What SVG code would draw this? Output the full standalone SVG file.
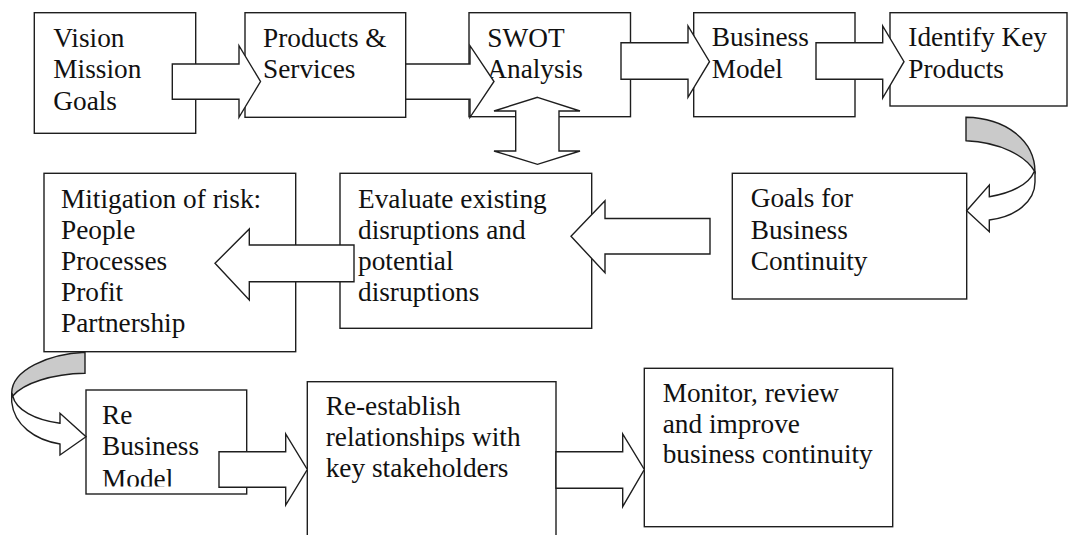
<svg xmlns="http://www.w3.org/2000/svg" width="1068" height="535" viewBox="0 0 1068 535">
<style>
.box{fill:#fff;stroke:#1e1e1e;stroke-width:1.4}
.arr{fill:#fff;stroke:#1e1e1e;stroke-width:1.4;stroke-linejoin:miter}
.back{fill:#cacaca;stroke:#1e1e1e;stroke-width:1.4}
text{font-family:"Liberation Serif","Times New Roman",serif;font-size:27.3px;fill:#111}
</style>
<defs>
<clipPath id="reclip"><rect x="86" y="390" width="161" height="96.5"/></clipPath>
</defs>
<rect width="1068" height="535" fill="#fff"/>

<g id="n-vision"><rect class="box" x="34.3" y="12.7" width="161.4" height="120.6"/>
<text x="53.3" y="46.5">Vision</text><text x="53.3" y="78">Mission</text><text x="53.3" y="109.5">Goals</text></g>

<g id="n-products"><rect class="box" x="245" y="12.7" width="160.7" height="104.6"/>
<text x="263" y="46.5">Products &amp;</text><text x="263" y="78">Services</text></g>

<g id="n-swot"><rect class="box" x="469" y="12.7" width="161.5" height="104"/>
<text x="487.3" y="46.5">SWOT</text><text x="487.3" y="78">Analysis</text></g>

<g id="n-business"><rect class="box" x="693.7" y="12.7" width="161.3" height="104"/>
<text x="711.7" y="46">Business</text><text x="711.7" y="77.5">Model</text></g>

<g id="n-identify"><rect class="box" x="890" y="12.7" width="177" height="93.3"/>
<text x="908.3" y="46">Identify Key</text><text x="908.3" y="77.5">Products</text></g>

<g id="n-goals"><rect class="box" x="732.3" y="173.3" width="234.4" height="125.7"/>
<text x="750.7" y="207">Goals for</text><text x="750.7" y="238.5">Business</text><text x="750.7" y="270">Continuity</text></g>

<g id="n-evaluate"><rect class="box" x="340" y="173.3" width="251.7" height="155"/>
<text x="358" y="207.5">Evaluate existing</text><text x="358" y="238.5">disruptions and</text><text x="358" y="269.5">potential</text><text x="358" y="300.5">disruptions</text></g>

<g id="n-mitigation"><rect class="box" x="44" y="173.3" width="251.7" height="178.4"/>
<text x="61" y="207.5">Mitigation of risk:</text><text x="61" y="238.5">People</text><text x="61" y="269.5">Processes</text><text x="61" y="300.5">Profit</text><text x="61" y="331.5">Partnership</text></g>

<g id="n-rebusiness"><rect class="box" x="86" y="390" width="160.7" height="104"/>
<text x="102" y="424">Re</text><text x="102" y="455">Business</text><text x="102" y="488" clip-path="url(#reclip)">Model</text></g>

<g id="n-reestablish"><rect class="box" x="307.3" y="381.7" width="248.7" height="160"/>
<text x="325.7" y="415">Re-establish</text><text x="325.7" y="446">relationships with</text><text x="325.7" y="477.3">key stakeholders</text></g>

<g id="n-monitor"><rect class="box" x="644.3" y="368.3" width="248.4" height="158.4"/>
<text x="662.7" y="401.7">Monitor, review</text><text x="662.7" y="432.7">and improve</text><text x="662.7" y="463.3">business continuity</text></g>

<g id="connectors">
<path class="arr" d="M172.3,64 H239 V45.7 L260.5,81.5 L239,117.3 V99.3 H172.3 Z"/>
<path class="arr" d="M405.7,64 H470 V45.7 L494,81.5 L470,117.3 V99.3 H405.7 Z"/>
<path class="arr" d="M621,42.7 H688 V26 L709.5,61.7 L688,97.3 V79.3 H621 Z"/>
<path class="arr" d="M816,42.7 H882.7 V26 L904,61.7 L882.7,98 V79.3 H816 Z"/>
<path class="arr" d="M537.5,97.3 L580,111 H559 V151 H580 L537.5,164.3 L494,151 H515.7 V111 H494 Z"/>
<path class="back" d="M966,117.3 C1005,118 1035,140 1035,172 C1026,156 1000,142 966,140.7 Z"/>
<path class="arr" d="M1035,172 L1035,182 C1035,202 1015,217 989.3,220 L989.3,231.7 L966.7,210.7 L989.3,185 L989.3,196.7 C1012,193 1029,184 1034,172 Z"/>
<path class="arr" d="M710,218.5 H605 V200.7 L571,236.3 L605,272.7 V254 H710 Z"/>
<path class="arr" d="M354,245 H249.3 V229 L215,263.3 L249.3,300 V281.7 H354 Z"/>
<path class="back" d="M85,352.3 C48,354 12,370 11.7,393 L12.7,396 C24,383 52,374 85,373.3 Z"/>
<path class="arr" d="M11.7,393 L11.7,402 C14,425 35,440 60,444 L60,455 L86,436.7 L60,413.3 L60,423.3 C35,420 16,410 12.7,396 Z"/>
<path class="arr" d="M219,451.7 H285.7 V434 L307.3,469.5 L285.7,505 V487.3 H219 Z"/>
<path class="arr" d="M556,451.7 H622.7 V434 L644.3,469.5 L622.7,506.7 V488.3 H556 Z"/>
</g>
</svg>
